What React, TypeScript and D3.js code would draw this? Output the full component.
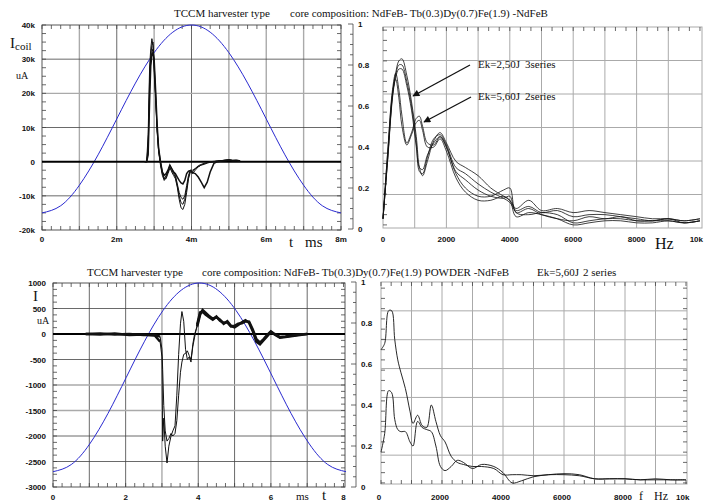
import React from 'react';
import * as d3 from 'd3';

// ---- top left: coil current, k uA vs ms ----
const tlTime = [2.75, 2.8, 2.84, 2.88, 2.91, 2.94, 2.97, 3.0, 3.04, 3.08, 3.12, 3.17, 3.22, 3.27, 3.32, 3.37, 3.42, 3.47, 3.52, 3.57, 3.62, 3.67, 3.72, 3.77, 3.82, 3.87, 3.92, 3.97, 4.03, 4.1, 4.18, 4.26, 4.34, 4.42, 4.5, 4.6, 4.7, 4.8, 4.9, 5.0, 5.1, 5.2, 5.3];
const tlRun1 = [0, 0, 8, 28, 33, 36, 34, 26, 18, 9, 3, -1, -4, -5.5, -4.5, -3, -1.5, -3, -4, -5, -7.5, -11, -13.5, -14, -12.5, -9, -5, -3, -3.5, -2.5, -1.5, -1, -0.8, -0.4, -0.2, 0, 0.2, 0.3, 0.5, 0.6, 0.4, 0.5, 0.3];
const tlRun2 = [0, 0, 5, 25, 31, 34, 35, 29, 20, 10, 4, 0, -3, -5, -5, -3.5, -2, -2.5, -3.5, -4.5, -7, -10, -12, -12.5, -11, -8, -4.5, -2.5, -3, -2, -1.2, -0.8, -0.5, -0.3, -0.1, 0, 0.2, 0.3, 0.4, 0.5, 0.4, 0.4, 0.3];
const tlRun3 = [0, 0, 3, 22, 30, 32, 33, 28, 19, 9, 3, -0.5, -3.5, -5, -4, -3, -1, -2, -3, -4, -6.5, -9, -10.5, -11, -10, -7, -4, -2.5, -2.5, -2, -1.5, -1, -0.5, -0.3, 0, 0.1, 0.2, 0.3, 0.4, 0.4, 0.3, 0.3, 0.2];
const tlRun4 = [0, 0, 2, 18, 28, 31, 32, 30, 21, 11, 4, 0, -3, -4, -3.5, -2.5, -1, -2, -3, -3.5, -4.5, -5.5, -6.2, -6.5, -5.5, -3.5, -2.8, -2.6, -3.2, -3.5, -4.5, -6, -7.6, -6, -3, -0.5, 0, 0.2, 0.3, 0.5, 0.3, 0.3, 0.2];
const tlRefTime = [0, 0.5, 1, 1.5, 2, 2.5, 3, 3.5, 4, 4.5, 5, 5.5, 6, 6.5, 7, 7.5, 8];
const tlRef = [-15, -12.9, -6.9, 2.0, 12.5, 23.0, 31.9, 37.9, 40, 37.9, 31.9, 23.0, 12.5, 2.0, -6.9, -12.9, -15];
const tlYTicks = [40, 30, 20, 10, 0, -10, -20];
const tlYLabels = ['40k', '30k', '20k', '10k', '0', '-10k', '-20k'];
const tlXTicks = [0, 2, 4, 6, 8];
const tlXLabels = ['0', '2m', '4m', '6m', '8m'];

// ---- top right: spectra, 3 series at 2,50J and 2 at 5,60J ----
const trFreq = [0, 150, 300, 400, 500, 600, 750, 900, 1050, 1150, 1250, 1400, 1600, 1800, 2000, 2300, 2600, 3000, 3400, 3800, 4000, 4200, 4600, 5000, 5500, 6000, 6500, 7000, 7500, 8000, 8500, 9000, 9500, 10000];
const trA1 = [0.05, 0.35, 0.66, 0.76, 0.82, 0.83, 0.75, 0.62, 0.45, 0.3, 0.26, 0.33, 0.43, 0.47, 0.42, 0.33, 0.3, 0.26, 0.2, 0.16, 0.14, 0.1, 0.14, 0.09, 0.1, 0.08, 0.09, 0.08, 0.07, 0.06, 0.05, 0.05, 0.04, 0.05];
const trA2 = [0.05, 0.35, 0.65, 0.75, 0.8, 0.8, 0.72, 0.6, 0.42, 0.28, 0.27, 0.35, 0.44, 0.46, 0.41, 0.3, 0.27, 0.22, 0.18, 0.15, 0.13, 0.09, 0.11, 0.08, 0.09, 0.06, 0.07, 0.07, 0.06, 0.05, 0.04, 0.05, 0.04, 0.05];
const trA3 = [0.05, 0.34, 0.64, 0.74, 0.78, 0.78, 0.7, 0.58, 0.4, 0.3, 0.29, 0.36, 0.42, 0.45, 0.4, 0.28, 0.24, 0.19, 0.16, 0.15, 0.16, 0.08, 0.1, 0.07, 0.05, 0.04, 0.06, 0.05, 0.06, 0.04, 0.04, 0.04, 0.03, 0.04];
const trB1 = [0.05, 0.38, 0.68, 0.76, 0.68, 0.55, 0.42, 0.47, 0.54, 0.55, 0.5, 0.42, 0.41, 0.45, 0.4, 0.27, 0.2, 0.16, 0.16, 0.19, 0.2, 0.08, 0.07, 0.08, 0.07, 0.03, 0.04, 0.05, 0.05, 0.04, 0.04, 0.05, 0.03, 0.04];
const trB2 = [0.05, 0.38, 0.66, 0.73, 0.64, 0.5, 0.41, 0.46, 0.52, 0.53, 0.48, 0.4, 0.4, 0.44, 0.38, 0.25, 0.18, 0.14, 0.14, 0.16, 0.14, 0.06, 0.08, 0.07, 0.05, 0.02, 0.03, 0.04, 0.04, 0.03, 0.03, 0.04, 0.03, 0.04];
const fTicks = [0, 2000, 4000, 6000, 8000];
const fLabels = ['0', '2000', '4000', '6000', '8000'];
const ampTicks = [1, 0.8, 0.6, 0.4, 0.2, 0];
const ampLabels = ['1', '0.8', '0.6', '0.4', '0.2', '0'];

// ---- bottom left: powder core, uA vs ms ----
const blTime = [0.9, 1.3, 1.7, 2.1, 2.5, 2.8, 2.95, 3.0, 3.02, 3.05, 3.09, 3.14, 3.19, 3.25, 3.3, 3.36, 3.41, 3.46, 3.51, 3.55, 3.6, 3.65, 3.7, 3.75, 3.8, 3.85, 3.9, 3.97, 4.05, 4.12, 4.2, 4.3, 4.4, 4.5, 4.6, 4.7, 4.8, 4.9, 5.0, 5.1, 5.2, 5.3, 5.4, 5.5, 5.6, 5.7, 5.8, 5.9, 6.0, 6.1, 6.25, 6.4, 6.6, 6.8, 7.0];
const blRun1 = [0, -10, 10, -20, -10, -30, -150, -450, -2100, -1650, -2200, -2530, -2200, -2000, -1900, -1800, -1200, -400, 200, 440, 250, -300, -500, -450, -550, -200, 0, 150, 380, 470, 420, 350, 300, 330, 280, 200, 250, 160, 130, 180, 230, 270, 220, 60, -150, -200, -120, -40, 40, -10, -70, -60, -40, -20, 0];
const blRun2 = [0, 10, -10, 0, -20, -20, -50, -300, -700, -1400, -1900, -2100, -2050, -1950, -2000, -1950, -1700, -1200, -750, -550, -400, -380, -330, -420, -500, -250, -60, 180, 420, 440, 380, 330, 280, 340, 260, 220, 230, 150, 160, 200, 210, 250, 240, 90, -100, -170, -100, -20, 50, 0, -60, -50, -30, -10, 0];
const blRefTime = [0, 0.504, 1.009, 1.513, 2.018, 2.522, 3.026, 3.531, 4.035, 4.539, 5.044, 5.548, 6.053, 6.557, 7.061, 7.566, 8.07];
const blRef = [-2700, -2559, -2158, -1559, -850, -141, 458, 859, 1000, 859, 458, -141, -850, -1559, -2158, -2559, -2700];
const blYTicks = [1000, 500, 0, -500, -1000, -1500, -2000, -2500, -3000];
const blXTicks = [0, 2, 4, 6, 8];

// ---- bottom right: powder core spectra ----
const brFreq = [0, 120, 250, 350, 450, 550, 650, 800, 950, 1050, 1200, 1350, 1500, 1650, 1800, 1950, 2100, 2300, 2500, 2700, 3000, 3300, 3700, 4000, 4300, 4600, 5000, 5500, 6000, 6500, 7000, 7500, 8000, 8500, 9000, 9500, 10000];
const brP = [0.67, 0.7, 0.86, 0.86, 0.72, 0.62, 0.56, 0.48, 0.37, 0.31, 0.35, 0.3, 0.29, 0.4, 0.32, 0.25, 0.22, 0.15, 0.12, 0.11, 0.1, 0.1, 0.09, 0.06, 0.06, 0.06, 0.055, 0.06, 0.06, 0.055, 0.04, 0.04, 0.04, 0.035, 0.04, 0.035, 0.035];
const brQ = [0.17, 0.26, 0.47, 0.46, 0.33, 0.28, 0.27, 0.27, 0.22, 0.2, 0.32, 0.29, 0.28, 0.27, 0.2, 0.1, 0.08, 0.1, 0.13, 0.12, 0.09, 0.11, 0.1, 0.07, 0.02, 0.03, 0.05, 0.06, 0.065, 0.06, 0.04, 0.04, 0.04, 0.035, 0.035, 0.035, 0.035];

const sans = "'Liberation Sans', Arial, sans-serif";
const serif = "'Liberation Serif', 'Times New Roman', serif";
const BLUE = '#2a2ad0';
const DARK = '#444';
const GREY = '#aaa';

type Scale = d3.ScaleLinear<number, number>;

const lineOf = (x: Scale, y: Scale, xs: number[], ys: number[], curve: d3.CurveFactory = d3.curveLinear) =>
  d3.line<number>().x((_, i) => x(xs[i])).y((v) => y(v)).curve(curve)(ys) || '';

const tickLabel = { fontFamily: sans, fontWeight: 700, fontSize: 8, fill: '#111' } as const;

function MinorTicks({ vals, pos, fixed, horizontal, len }: { vals: number[]; pos: Scale; fixed: number; horizontal: boolean; len: number }) {
  return (
    <g stroke={DARK} strokeWidth={0.8}>
      {vals.map((v, i) =>
        horizontal ? (
          <line key={i} x1={pos(v)} x2={pos(v)} y1={fixed} y2={fixed + len} />
        ) : (
          <line key={i} x1={fixed} x2={fixed + len} y1={pos(v)} y2={pos(v)} />
        )
      )}
    </g>
  );
}

function SideAxis({ x, y }: { x: number; y: Scale }) {
  return (
    <g>
      <line x1={x} x2={x} y1={y(0)} y2={y(1)} stroke={DARK} strokeWidth={0.8} />
      {d3.range(0, 1.001, 0.05).map((v, i) => (
        <line key={i} x1={x} x2={x - (i % 4 === 0 ? 5 : 3)} y1={y(v)} y2={y(v)} stroke={DARK} strokeWidth={0.8} />
      ))}
      {ampTicks.map((v, i) => (
        <text key={v} x={x + 5} y={y(v) + 3} {...tickLabel}>{ampLabels[i]}</text>
      ))}
    </g>
  );
}

export default function App() {
  // top left
  const tlX = d3.scaleLinear().domain([0, 8]).range([42, 341]);
  const tlY = d3.scaleLinear().domain([-20, 40]).range([230, 25]);
  const tlVDark = [false, true, false, true, false, false, false];
  const tlH = [30, 20, 10, -10];
  const tlHDark = [true, false, true, true];

  // top right
  const trX = d3.scaleLinear().domain([0, 10000]).range([383, 700]);
  const trY = d3.scaleLinear().domain([0, 1]).range([229, 24]);
  const trBox = { l: 383, r: 702, t: 27, b: 228 };

  // bottom left
  const blX = d3.scaleLinear().domain([0, 8]).range([53, 343.5]);
  const blY = d3.scaleLinear().domain([-3000, 1000]).range([487, 283]);
  const blVDark = [true, true, false, true, true, false, true];
  const blH = [500, -500, -1000, -1500, -2000, -2500];
  const blHDark = [true, true, false, false, true, true];

  // bottom right
  const brX = d3.scaleLinear().domain([0, 10000]).range([381, 686]);
  const brY = d3.scaleLinear().domain([0, 1]).range([487, 282]);
  const brBox = { l: 381, r: 687, t: 282, b: 484 };

  const smooth = d3.curveCatmullRom.alpha(0.5);
  const blThickIdx = blTime.map((t, i) => (t >= 3.95 ? i : -1)).filter((i) => i >= 0);
  const blEarlyIdx = blTime.map((t, i) => (t <= 2.95 ? i : -1)).filter((i) => i >= 0);

  return (
    <svg width={704} height={504} style={{ position: 'absolute', left: 0, top: 0, background: '#fff' }}>
      <defs>
        <marker id="arr" viewBox="0 0 10 10" refX={9} refY={5} markerWidth={9} markerHeight={7} orient="auto" markerUnits="userSpaceOnUse">
          <path d="M0,0 L10,5 L0,10 z" fill="#111" />
        </marker>
      </defs>

      {/* ===== titles ===== */}
      <g fontFamily={serif} fontSize={11} fill="#111">
        <text x={174} y={17}>TCCM harvester type</text>
        <text x={290} y={17}>core composition: NdFeB- Tb(0.3)Dy(0.7)Fe(1.9) -NdFeB</text>
        <text x={87} y={276}>TCCM harvester type</text>
        <text x={202} y={276}>core composition: NdFeB- Tb(0.3)Dy(0.7)Fe(1.9) POWDER -NdFeB</text>
        <text x={537} y={276}>Ek=5,60J</text>
        <text x={583} y={276}>2 series</text>
      </g>

      {/* ===== top left ===== */}
      <g>
        {d3.range(1, 8).map((t, i) => (
          <line key={t} x1={tlX(t)} x2={tlX(t)} y1={tlY(40)} y2={tlY(-20)} stroke={tlVDark[i] ? DARK : GREY} strokeWidth={tlVDark[i] ? 0.8 : 1.4} />
        ))}
        {tlH.map((v, i) => (
          <line key={v} x1={tlX(0)} x2={tlX(8)} y1={tlY(v)} y2={tlY(v)} stroke={tlHDark[i] ? DARK : GREY} strokeWidth={tlHDark[i] ? 0.8 : 1.4} />
        ))}
        <rect x={tlX(0)} y={tlY(40)} width={tlX(8) - tlX(0)} height={tlY(-20) - tlY(40)} fill="none" stroke={DARK} strokeWidth={0.9} />
        <MinorTicks vals={d3.range(0, 8.01, 0.25)} pos={tlX} fixed={tlY(-20)} horizontal len={-4} />
        <MinorTicks vals={d3.range(0, 8.01, 0.25)} pos={tlX} fixed={tlY(40)} horizontal len={4} />
        <MinorTicks vals={d3.range(-20, 40.01, 2.5)} pos={tlY} fixed={tlX(0)} horizontal={false} len={4} />
        <MinorTicks vals={d3.range(-20, 40.01, 2.5)} pos={tlY} fixed={tlX(8)} horizontal={false} len={-4} />
        <path d={lineOf(tlX, tlY, tlRefTime, tlRef, d3.curveNatural)} fill="none" stroke={BLUE} strokeWidth={1} />
        <line x1={tlX(0)} x2={tlX(8)} y1={tlY(0)} y2={tlY(0)} stroke="#000" strokeWidth={2} />
        {[tlRun1, tlRun2, tlRun3, tlRun4].map((run, i) => (
          <path key={i} d={lineOf(tlX, tlY, tlTime, run)} fill="none" stroke="#111" strokeWidth={i === 3 ? 1.5 : 1} />
        ))}
        {tlYTicks.map((v, i) => (
          <text key={v} x={35} y={tlY(v) + 3} textAnchor="end" {...tickLabel}>{tlYLabels[i]}</text>
        ))}
        {tlXTicks.map((v, i) => (
          <text key={v} x={tlX(v)} y={242} textAnchor="middle" {...tickLabel}>{tlXLabels[i]}</text>
        ))}
        <text x={10} y={48} fontFamily={serif} fontSize={15} fill="#111">I<tspan fontSize={11} dy={2}>coil</tspan></text>
        <text x={16} y={79} fontFamily={serif} fontSize={10} fill="#111">uA</text>
        <text x={289} y={247} fontFamily={serif} fontSize={15} fill="#111">t</text>
        <text x={305} y={247} fontFamily={serif} fontSize={15} fill="#111">ms</text>
      </g>

      {/* ===== top right ===== */}
      <g>
        {d3.range(1000, 10000, 1000).map((f) => (
          <line key={f} x1={trX(f)} x2={trX(f)} y1={trBox.t} y2={trBox.b} stroke={GREY} strokeWidth={1} />
        ))}
        {d3.range(1, 6).map((k) => {
          const y = trBox.t + (k * (trBox.b - trBox.t)) / 6;
          return <line key={k} x1={trBox.l} x2={trBox.r} y1={y} y2={y} stroke={GREY} strokeWidth={1} />;
        })}
        <rect x={trBox.l} y={trBox.t} width={trBox.r - trBox.l} height={trBox.b - trBox.t} fill="none" stroke={GREY} strokeWidth={1} />
        <MinorTicks vals={d3.range(0, 10001, 333.3)} pos={trX} fixed={trBox.t} horizontal len={4} />
        <MinorTicks vals={d3.range(0.02, 1, 0.05)} pos={trY} fixed={trBox.l} horizontal={false} len={4} />
        <SideAxis x={353} y={trY} />
        {[trA1, trA2, trA3, trB1, trB2].map((s, i) => (
          <path key={i} d={lineOf(trX, trY, trFreq, s, smooth)} fill="none" stroke="#111" strokeWidth={0.8} />
        ))}
        {fTicks.map((v, i) => (
          <text key={v} x={trX(v)} y={242} textAnchor="middle" {...tickLabel}>{fLabels[i]}</text>
        ))}
        <text x={703} y={242} textAnchor="end" {...tickLabel}>10k</text>
        <text x={655} y={249} fontFamily={serif} fontSize={16} fill="#111">Hz</text>
        <g fontFamily={serif} fontSize={11} fill="#111">
          <text x={478} y={68}>Ek=2,50J</text>
          <text x={525} y={68}>3series</text>
          <text x={478} y={100}>Ek=5,60J</text>
          <text x={525} y={100}>2series</text>
        </g>
        <line x1={470} y1={65} x2={413} y2={96} stroke="#111" strokeWidth={1.3} markerEnd="url(#arr)" />
        <line x1={471} y1={97} x2={424} y2={122} stroke="#111" strokeWidth={1.3} markerEnd="url(#arr)" />
      </g>

      {/* ===== bottom left ===== */}
      <g>
        {d3.range(1, 8).map((t, i) => (
          <line key={t} x1={blX(t)} x2={blX(t)} y1={blY(1000)} y2={blY(-3000)} stroke={blVDark[i] ? DARK : GREY} strokeWidth={blVDark[i] ? 0.8 : 1.4} />
        ))}
        {blH.map((v, i) => (
          <line key={v} x1={blX(0)} x2={345} y1={blY(v)} y2={blY(v)} stroke={blHDark[i] ? DARK : GREY} strokeWidth={blHDark[i] ? 0.8 : 1.4} />
        ))}
        <rect x={blX(0)} y={blY(1000)} width={345 - blX(0)} height={blY(-3000) - blY(1000)} fill="none" stroke={DARK} strokeWidth={0.9} />
        <MinorTicks vals={d3.range(0, 8.01, 0.25)} pos={blX} fixed={blY(-3000)} horizontal len={-4} />
        <MinorTicks vals={d3.range(0, 8.01, 0.25)} pos={blX} fixed={blY(1000)} horizontal len={4} />
        <MinorTicks vals={d3.range(-3000, 1001, 125)} pos={blY} fixed={blX(0)} horizontal={false} len={4} />
        <MinorTicks vals={d3.range(-3000, 1001, 125)} pos={blY} fixed={345} horizontal={false} len={-4} />
        <path d={lineOf(blX, blY, blRefTime, blRef, d3.curveNatural)} fill="none" stroke={BLUE} strokeWidth={1} />
        <line x1={blX(0)} x2={345} y1={blY(0)} y2={blY(0)} stroke="#000" strokeWidth={2} />
        {[blRun1, blRun2].map((run, i) => (
          <g key={i}>
            <path d={lineOf(blX, blY, blTime, run)} fill="none" stroke="#111" strokeWidth={1} />
            <path d={lineOf(blX, blY, blThickIdx.map((j) => blTime[j]), blThickIdx.map((j) => run[j]))} fill="none" stroke="#111" strokeWidth={2.6} />
            <path d={lineOf(blX, blY, blEarlyIdx.map((j) => blTime[j]), blEarlyIdx.map((j) => run[j]))} fill="none" stroke="#111" strokeWidth={2.4} />
          </g>
        ))}
        {blYTicks.map((v) => (
          <text key={v} x={46} y={blY(v) + 3} textAnchor="end" {...tickLabel}>{v}</text>
        ))}
        {blXTicks.map((v) => (
          <text key={v} x={blX(v)} y={500} textAnchor="middle" {...tickLabel}>{v}</text>
        ))}
        <text x={33} y={301} fontFamily={serif} fontSize={15} fill="#111">I</text>
        <text x={37} y={324} fontFamily={serif} fontSize={10} fill="#111">uA</text>
        <text x={296} y={500} fontFamily={serif} fontSize={11} fill="#111">ms</text>
        <text x={322} y={500} fontFamily={serif} fontSize={15} fill="#111">t</text>
      </g>

      {/* ===== bottom right ===== */}
      <g>
        {d3.range(1000, 10000, 1000).map((f) => (
          <line key={f} x1={brX(f)} x2={brX(f)} y1={brBox.t} y2={brBox.b} stroke={GREY} strokeWidth={1} />
        ))}
        {d3.range(1, 7).map((k) => {
          const y = brBox.t + (k * (brBox.b - brBox.t)) / 7;
          return <line key={k} x1={brBox.l} x2={brBox.r} y1={y} y2={y} stroke={GREY} strokeWidth={1} />;
        })}
        <rect x={brBox.l} y={brBox.t} width={brBox.r - brBox.l} height={brBox.b - brBox.t} fill="none" stroke={GREY} strokeWidth={1} />
        <MinorTicks vals={d3.range(0, 10001, 333.3)} pos={brX} fixed={brBox.t} horizontal len={4} />
        <MinorTicks vals={d3.range(0, 10001, 333.3)} pos={brX} fixed={brBox.b} horizontal len={-4} />
        <MinorTicks vals={d3.range(0.02, 1, 0.05)} pos={brY} fixed={brBox.l} horizontal={false} len={4} />
        <MinorTicks vals={d3.range(0.02, 1, 0.05)} pos={brY} fixed={brBox.r} horizontal={false} len={-4} />
        <SideAxis x={356} y={brY} />
        {[brP, brQ].map((s, i) => (
          <path key={i} d={lineOf(brX, brY, brFreq, s, smooth)} fill="none" stroke="#111" strokeWidth={0.9} />
        ))}
        {fTicks.map((v, i) => (
          <text key={v} x={brX(v) - 2} y={500} textAnchor="middle" {...tickLabel}>{fLabels[i]}</text>
        ))}
        <text x={639} y={500} fontFamily={serif} fontSize={12} fill="#111">f</text>
        <text x={654} y={500} fontFamily={serif} fontSize={12} fill="#111">Hz</text>
        <text x={676} y={500} {...tickLabel}>10k</text>
      </g>
    </svg>
  );
}
